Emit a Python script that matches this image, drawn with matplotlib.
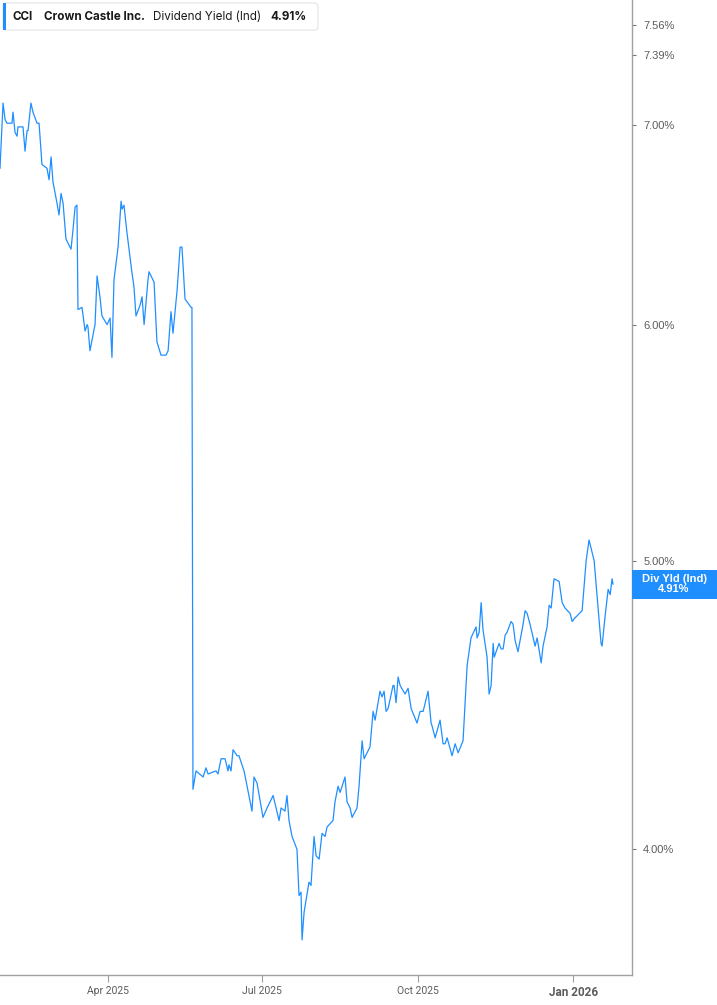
import numpy as np
import matplotlib
matplotlib.use("Agg")
import matplotlib.pyplot as plt
import matplotlib.dates as mdates
from matplotlib.patches import FancyBboxPatch, Rectangle
import datetime as dt

# days counted from 2025-01-27, values are dividend yield in %
start = dt.date(2025, 1, 27)
days = [0.0, 1.8, 3.0, 4.1, 7.1, 7.7, 8.9, 10.1, 10.6, 13.6, 14.8, 16.0, 16.6, 18.3, 19.5,
        21.9, 23.1, 24.8, 27.8, 29.0, 30.2, 31.3, 33.7, 34.9, 36.1, 37.3, 39.0, 42.0, 43.2,
        44.4, 45.5, 46.1, 48.5, 50.3, 51.5, 52.0, 53.2, 56.2, 57.4, 59.1, 60.3, 63.3, 65.1,
        66.2, 67.4, 69.8, 71.6, 72.2, 73.3, 75.1, 78.1, 79.2, 80.4, 82.8, 84.0, 85.2, 87.5,
        88.1, 91.1, 92.8, 95.2, 98.2, 99.4, 101.1, 102.3, 104.7, 106.5, 107.6, 109.4, 113.0,
        113.5, 114.1, 115.9, 120.1, 121.8, 123.0, 127.7, 128.9, 130.7, 133.1, 134.8, 135.4,
        136.6, 137.8, 140.2, 141.3, 144.3, 149.0, 150.2, 152.0, 155.5, 157.9, 161.5, 165.0,
        166.2, 168.5, 169.7, 170.9, 172.7, 175.6, 176.8, 178.0, 178.6, 179.8, 182.7, 183.9,
        185.7, 186.9, 188.7, 190.4, 192.2, 193.4, 196.9, 198.1, 199.9, 201.1, 204.0, 205.2,
        207.0, 208.2, 211.1, 212.3, 214.1, 215.3, 218.8, 220.6, 221.8, 224.7, 225.9, 227.1,
        228.3, 229.5, 232.4, 233.0, 234.2, 235.4, 236.6, 239.5, 241.3, 243.1, 246.6, 248.4,
        250.2, 253.1, 254.9, 255.5, 257.3, 260.2, 262.0, 263.2, 264.4, 267.3, 269.1, 270.9,
        273.8, 276.2, 278.5, 281.5, 282.1, 283.3, 284.5, 285.6, 288.0, 289.2, 290.4, 291.6,
        292.2, 295.1, 296.3, 297.5, 298.7, 299.8, 302.2, 303.4, 304.6, 306.3, 309.3, 310.5,
        311.7, 313.4, 316.4, 317.6, 320.0, 321.1, 323.5, 324.7, 325.9, 327.6, 330.6, 332.4,
        334.1, 337.1, 338.3, 339.5, 344.2, 346.6, 348.3, 351.3, 355.4, 356.0, 357.8, 359.6,
        360.8, 361.9, 362.5]
yld = [6.77, 7.12, 7.03, 7.01, 7.01, 7.07, 6.96, 6.94, 6.99, 6.99, 6.86, 6.97, 6.97, 7.12, 7.07,
       7.01, 7.01, 6.79, 6.77, 6.71, 6.83, 6.70, 6.59, 6.53, 6.64, 6.59, 6.41, 6.36, 6.46,
       6.57, 6.58, 6.07, 6.08, 5.97, 6.00, 5.99, 5.88, 6.00, 6.23, 6.13, 6.04, 6.00, 6.03,
       5.85, 6.21, 6.37, 6.60, 6.56, 6.58, 6.44, 6.24, 6.18, 6.04, 6.09, 6.13, 6.00, 6.21,
       6.25, 6.20, 5.92, 5.86, 5.86, 5.88, 6.06, 5.96, 6.16, 6.37, 6.37, 6.12, 6.08,
       6.08, 4.19, 4.25, 4.23, 4.26, 4.24, 4.25, 4.24, 4.29, 4.29, 4.25, 4.27,
       4.25, 4.32, 4.30, 4.30, 4.25, 4.12, 4.23, 4.21, 4.10, 4.13, 4.17, 4.09,
       4.13, 4.12, 4.17, 4.09, 4.04, 4.00, 3.86, 3.87, 3.73, 3.81, 3.90, 3.89,
       4.04, 3.98, 3.97, 4.05, 4.04, 4.07, 4.09, 4.15, 4.20, 4.18, 4.23, 4.15,
       4.13, 4.10, 4.13, 4.20, 4.35, 4.29, 4.33, 4.45, 4.42, 4.52, 4.50, 4.52,
       4.45, 4.46, 4.54, 4.54, 4.48, 4.57, 4.54, 4.51, 4.53, 4.46, 4.41, 4.45,
       4.45, 4.52, 4.41, 4.40, 4.36, 4.42, 4.34, 4.34, 4.36, 4.30, 4.34, 4.31,
       4.35, 4.61, 4.71, 4.75, 4.71, 4.73, 4.84, 4.74, 4.64, 4.51, 4.54, 4.69,
       4.64, 4.69, 4.67, 4.67, 4.72, 4.73, 4.77, 4.76, 4.70, 4.66, 4.76, 4.81,
       4.80, 4.76, 4.68, 4.71, 4.62, 4.68, 4.75, 4.83, 4.82, 4.93, 4.92, 4.84,
       4.82, 4.80, 4.77, 4.78, 4.81, 5.00, 5.08, 5.00, 4.69, 4.68, 4.79, 4.89,
       4.87, 4.93, 4.91]

ytick_vals = [4.00, 5.00, 6.00, 7.00, 7.39, 7.56]
xtick_dates = [dt.date(2025, 4, 1), dt.date(2025, 7, 1), dt.date(2025, 10, 1), dt.date(2026, 1, 1)]
xtick_labels = ['Apr 2025', 'Jul 2025', 'Oct 2025', 'Jan 2026']

ticker, company, metric, last_txt = 'CCI', 'Crown Castle Inc.', 'Dividend Yield (Ind)', '4.91%'

blue = '#1f8fff'
grey = '#5c5c5c'
W, H = 717, 1005

x = mdates.date2num(start) + np.array(days)

fig = plt.figure(figsize=(W / 100, H / 100), dpi=100)
ax = fig.add_axes([0, 1 - 975 / H, 632 / W, 975 / H])
ax.plot(x, yld, color=blue, lw=0.9)

ax.set_yscale('log')
ax.set_ylim(3.63, 7.71)
ax.set_xlim(mdates.date2num(start), mdates.date2num(start) + 373.7)

for s in ['top', 'left']:
    ax.spines[s].set_visible(False)
for s in ['right', 'bottom']:
    ax.spines[s].set_color('#a0a0a0')
    ax.spines[s].set_linewidth(1.0)

ax.yaxis.tick_right()
ax.yaxis.set_minor_locator(matplotlib.ticker.NullLocator())
ax.set_yticks(ytick_vals)
ax.set_yticklabels(['%.2f%%' % v for v in ytick_vals])
ax.tick_params(axis='y', which='major', length=3, width=0.8, color='#777777',
               labelsize=8, labelcolor=grey, pad=5)
for lbl in ax.get_yticklabels():
    lbl.set_family(['Liberation Sans', 'DejaVu Sans'])

ax.set_xticks([mdates.date2num(d) for d in xtick_dates])
ax.set_xticklabels(xtick_labels)
ax.tick_params(axis='x', length=5, width=0.8, color='#a0a0a0', labelsize=7.5,
               labelcolor=grey, pad=3)
for i, lbl in enumerate(ax.get_xticklabels()):
    lbl.set_family(['Liberation Sans Narrow', 'Roboto', 'DejaVu Sans'])
    if xtick_labels[i].startswith('Jan'):
        lbl.set_fontweight('bold')
        lbl.set_fontsize(8.5)

# header box
box = FancyBboxPatch((3 / W, 1 - 30 / H), 315 / W, 27 / H,
                     boxstyle='round,pad=0,rounding_size=0.004',
                     transform=fig.transFigure, fc='white', ec='#e3e3e3', lw=0.8)
fig.patches.append(box)
fig.patches.append(Rectangle((3 / W, 1 - 30 / H), 3 / W, 27 / H, transform=fig.transFigure,
                             fc=blue, ec='none'))
hy = 1 - 17 / H
fam = ['Inter', 'DejaVu Sans']
fs = 8.4
fig.text(13 / W, hy, ticker, fontsize=fs, fontweight='bold', color='#1a1a1a', va='center', family=fam)
fig.text(44 / W, hy, company, fontsize=fs, fontweight='bold', color='#1a1a1a', va='center', family=fam)
fig.text(153 / W, hy, metric, fontsize=fs, color='#1a1a1a', va='center', family=fam)
fig.text(270 / W, hy, last_txt, fontsize=fs, fontweight='bold', color='#1a1a1a', va='center', family=fam)

# last value tag on the right axis, placed at the last value
fig.canvas.draw()
ty = ax.transData.transform((x[-1], yld[-1]))[1]
fig.patches.append(Rectangle((632 / W, (ty - 14.5) / H), 85 / W, 29 / H,
                             transform=fig.transFigure, fc=blue, ec='none'))
fig.text(674 / W, ty / H, 'Div Yld (Ind)\n' + last_txt, ha='center', va='center',
         fontsize=8, fontweight='bold', color='white', linespacing=0.95,
         family=['Liberation Sans', 'DejaVu Sans'])

fig.savefig('out.png', dpi=100)
